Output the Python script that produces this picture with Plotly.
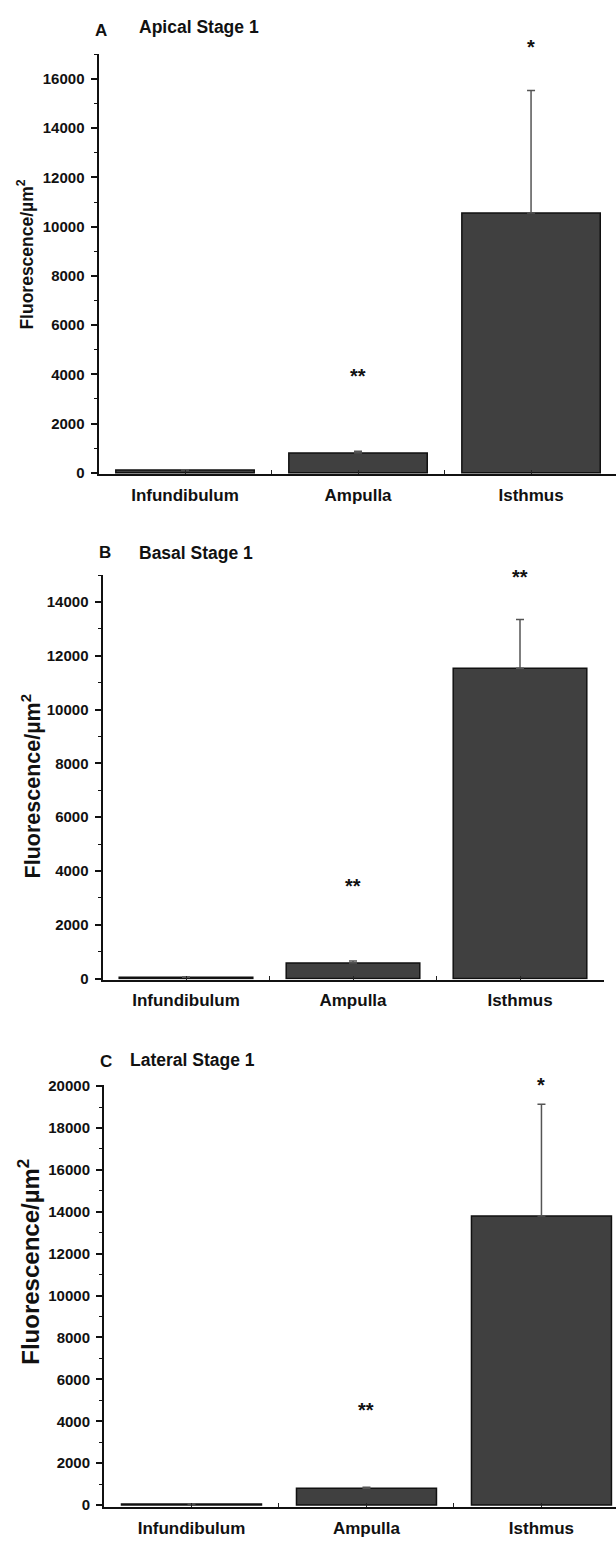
import plotly.graph_objects as go

# ---- data -------------------------------------------------------------
categories = ["Infundibulum", "Ampulla", "Isthmus"]

apical_mean = [110, 800, 10550]
apical_err = [15, 70, 4980]
apical_sig = ["", "**", "*"]
apical_sig_y = [None, 4100, 17450]

basal_mean = [50, 580, 11540]
basal_err = [10, 70, 1810]
basal_sig = ["", "**", "**"]
basal_sig_y = [None, 3600, 15070]

lateral_mean = [50, 800, 13800]
lateral_err = [10, 55, 5330]
lateral_sig = ["", "**", "*"]
lateral_sig_y = [None, 4720, 20250]

panel_letters = ["A", "B", "C"]
panel_titles = ["Apical Stage 1", "Basal Stage 1", "Lateral Stage 1"]
y_title = "Fluorescence/µm<sup>2</sup>"

# ---- layout helpers ---------------------------------------------------
W, H = 616, 1548
FONT = "Arial, Liberation Sans, sans-serif"


def xdom(left_px, right_px):
    return [left_px / W, min(right_px / W, 1.0)]


def ydom(top_px, bottom_px):
    return [1 - bottom_px / H, 1 - top_px / H]


panels = [
    dict(mean=apical_mean, err=apical_err, sig=apical_sig, sig_y=apical_sig_y,
         xd=xdom(98.5, 616), xr=[-0.5, 2.491], yd=ydom(46.8, 470.8),
         yr=[-60, 17000], title_y=19, letter_x=100.5, letter_y=22.5, title_x=137,
         ylab_x=25, ylab_y=249, ylab_size=17.5),
    dict(mean=basal_mean, err=basal_err, sig=basal_sig, sig_y=basal_sig_y,
         xd=xdom(102.5, 603.5), xr=[-0.5, 2.5], yd=ydom(572.7, 981.1),
         yr=[-40, 15000], title_y=550, letter_x=105, letter_y=550, title_x=137,
         ylab_x=31, ylab_y=786, ylab_size=21.5),
    dict(mean=lateral_mean, err=lateral_err, sig=lateral_sig, sig_y=lateral_sig_y,
         xd=xdom(104, 616), xr=[-0.5, 2.426], yd=ydom(1087.6, 1513.8),
         yr=[-100, 20050], title_y=1062, letter_x=106, letter_y=1064, title_x=128,
         ylab_x=29, ylab_y=1266, ylab_size=24),
]

fig = go.Figure()
annotations = []

for i, p in enumerate(panels):
    n = "" if i == 0 else str(i + 1)
    xa, ya = "x" + n, "y" + n

    fig.add_trace(go.Bar(
        x=list(range(len(categories))), y=p["mean"],
        width=0.8,
        marker=dict(color="#404040", line=dict(color="#111111", width=1.5)),
        error_y=dict(type="data", array=p["err"], arrayminus=[0] * len(p["err"]),
                     symmetric=False, color="#555555", thickness=1.5, width=4),
        xaxis=xa, yaxis=ya, showlegend=False,
    ))

    fig.layout["xaxis" + n] = dict(
        domain=p["xd"], range=p["xr"], anchor=ya,
        tickvals=[0, 1, 2], ticktext=categories,
        ticks="inside", ticklen=4, tickwidth=1, tickcolor="#222",
        minor=dict(tickvals=[0.5, 1.5], ticks="inside", ticklen=4,
                   tickcolor="#222", tickwidth=1),
        showline=True, linecolor="#111", linewidth=2,
        showgrid=False, zeroline=False,
        tickfont=dict(family=FONT, size=17, color="#111", weight="bold"),
        ticklabelstandoff=4,
    )
    fig.layout["yaxis" + n] = dict(
        domain=p["yd"], range=p["yr"], anchor=xa,
        dtick=2000, tick0=0, tickformat="d",
        ticks="outside", ticklen=6, tickwidth=1.5, tickcolor="#111",
        minor=dict(dtick=1000, tick0=0, ticks="outside", ticklen=3,
                   tickwidth=1, tickcolor="#111"),
        showline=True, linecolor="#111", linewidth=2,
        showgrid=False, zeroline=False,
        tickfont=dict(family=FONT, size=15, color="#111", weight="bold"),
        ticklabelstandoff=3,
    )

    # panel letter and title
    annotations.append(dict(
        text="<b>%s</b>" % panel_letters[i], xref="paper", yref="paper",
        x=p["letter_x"] / W, y=1 - p["letter_y"] / H,
        xanchor="center", yanchor="middle", showarrow=False,
        font=dict(family=FONT, size=17, color="#111")))
    annotations.append(dict(
        text="<b>%s</b>" % panel_titles[i], xref="paper", yref="paper",
        x=p["title_x"] / W, y=1 - p["title_y"] / H,
        xanchor="left", yanchor="middle", showarrow=False,
        font=dict(family=FONT, size=17.5, color="#111")))

    # y-axis title
    annotations.append(dict(
        text="<b>%s</b>" % y_title, xref="paper", yref="paper",
        x=p["ylab_x"] / W, y=1 - p["ylab_y"] / H, textangle=-90,
        xanchor="center", yanchor="middle", showarrow=False,
        font=dict(family=FONT, size=p["ylab_size"], color="#111")))

    # significance markers (placed in axis-domain units so they may sit above the range)
    r0, r1 = p["yr"]
    for k, (s, sy) in enumerate(zip(p["sig"], p["sig_y"])):
        if s:
            annotations.append(dict(
                text="<b>%s</b>" % s, xref=xa, yref=ya + " domain",
                x=k, y=(sy - r0) / (r1 - r0),
                xanchor="center", yanchor="middle", showarrow=False, yshift=-4,
                font=dict(family=FONT, size=20, color="#111")))

fig.update_layout(
    width=W, height=H,
    margin=dict(l=0, r=0, t=0, b=0),
    paper_bgcolor="white", plot_bgcolor="white",
    annotations=annotations,
    bargap=0.2,
)

fig.write_html("out.html")
